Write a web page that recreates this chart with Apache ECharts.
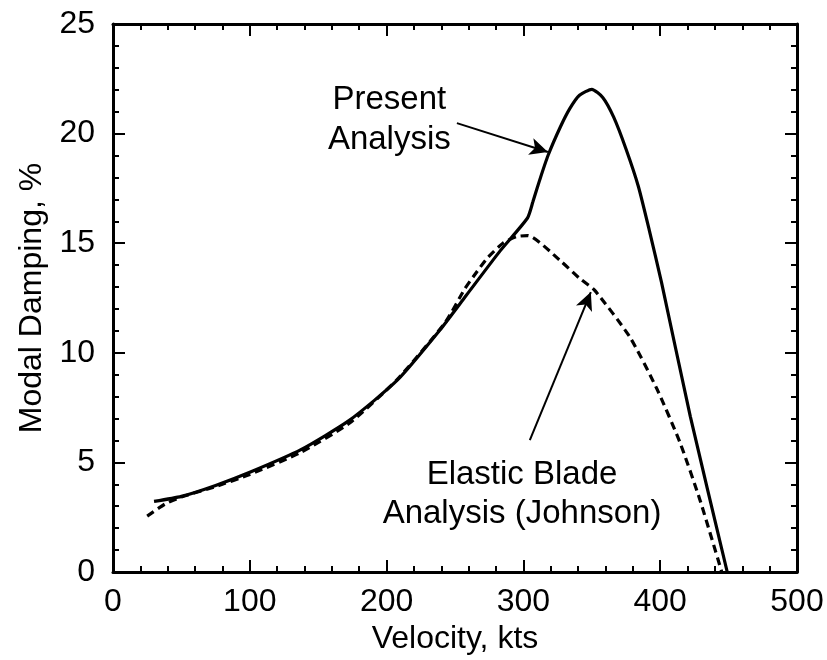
<!DOCTYPE html>
<html>
<head>
<meta charset="utf-8">
<script src="https://cdn.jsdelivr.net/npm/echarts@6/dist/echarts.min.js"></script>
<style>
  html, body { margin: 0; padding: 0; background: #fff; }
  #chart { width: 827px; height: 660px; }
</style>
</head>
<body>
<div id="chart"></div>
<script>
// Present Analysis (solid): [velocity kts, modal damping %]
const presentAnalysis = [
  [30, 3.22], [50, 3.45], [75, 3.95], [100, 4.55], [137, 5.57], [173, 6.93],
  [208, 8.76], [239, 11.04], [258, 12.6], [283, 14.65], [303, 16.15],
  [307, 16.9], [312, 17.9], [318, 19.0], [327, 20.3], [334, 21.15],
  [341, 21.75], [350, 22.02], [358, 21.65], [366, 20.75], [375, 19.3],
  [384, 17.6], [392, 15.6], [401, 13.2], [422, 7.1], [449, 0]
];
// Elastic Blade Analysis (Johnson) (dashed)
const johnsonAnalysis = [
  [25, 2.55], [38, 3.1], [50, 3.42], [75, 3.9], [100, 4.45], [137, 5.45],
  [173, 6.8], [208, 8.8], [243, 11.4], [257, 12.9], [266, 13.7],
  [274, 14.35], [285, 15.0], [295, 15.3], [303, 15.35], [327, 14.2],
  [341, 13.4], [352, 12.86], [378, 10.7], [398, 8.3], [414.5, 5.9],
  [429, 3.3], [445, 0]
];
// Annotations (data coordinates)
const presentLabel = { text: 'Present\nAnalysis', at: [202, 20.62] };
const presentArrow = { from: [251.4, 20.48], to: [317.9, 19.16] };
const johnsonLabel = { text: 'Elastic Blade\nAnalysis (Johnson)', at: [299, 3.56] };
const johnsonArrow = { from: [304.7, 6.02], to: [349.3, 12.77] };

const xTicks = { min: 0, max: 500, interval: 100 };
const yTicks = { min: 0, max: 25, interval: 5 };

const FONT = "'Liberation Sans', Arial, Helvetica, sans-serif";
const BLACK = '#000';

function makeAxis(base, extra) {
  return Object.assign({
    type: 'value',
    min: base.min, max: base.max, interval: base.interval,
    axisLine: { show: true, onZero: false, lineStyle: { color: BLACK, width: 3 } },
    axisTick: { show: true, inside: true, length: 12, lineStyle: { color: BLACK, width: 2 } },
    minorTick: { show: true, splitNumber: 5, length: 6, lineStyle: { color: BLACK, width: 2 } },
    splitLine: { show: false },
    minorSplitLine: { show: false }
  }, extra);
}

function arrowLine(arrow) {
  return {
    silent: true, animation: false,
    symbol: ['none', 'arrow'], symbolSize: 16,
    label: { show: false },
    lineStyle: { color: BLACK, width: 2, type: 'solid', opacity: 1 },
    itemStyle: { color: BLACK },
    emphasis: { disabled: true },
    data: [[
      { coord: arrow.from, symbol: 'none' },
      { coord: arrow.to, symbol: 'arrow', symbolSize: [13, 18], itemStyle: { color: BLACK } }
    ]]
  };
}

function textMark(lbl, lineHeight) {
  return {
    silent: true, animation: false,
    symbol: 'circle', symbolSize: 1, itemStyle: { color: 'rgba(0,0,0,0)' },
    label: { show: true, position: 'inside', color: BLACK, fontSize: 33, lineHeight: lineHeight, fontFamily: FONT, align: 'center', verticalAlign: 'middle' },
    data: [{ coord: lbl.at, value: 0, label: { formatter: lbl.text } }]
  };
}

const chart = echarts.init(document.getElementById('chart'), null, { renderer: 'canvas' });

const option = {
  backgroundColor: '#fff',
  animation: false,
  textStyle: { fontFamily: FONT },
  grid: { left: 113, right: 30, top: 24, bottom: 88, show: false },
  xAxis: [
    makeAxis(xTicks, {
      position: 'bottom',
      axisLabel: { show: true, color: BLACK, fontSize: 32, fontFamily: FONT, margin: 14 },
      name: 'Velocity, kts', nameLocation: 'middle', nameGap: 50,
      nameTextStyle: { color: BLACK, fontSize: 32, fontFamily: FONT }
    }),
    makeAxis(xTicks, { position: 'top', axisLabel: { show: false } })
  ],
  yAxis: [
    makeAxis(yTicks, {
      position: 'left',
      axisLabel: { show: true, color: BLACK, fontSize: 32, fontFamily: FONT, margin: 18 },
      name: 'Modal Damping, %', nameLocation: 'middle', nameGap: 59, nameRotate: 90,
      nameTextStyle: { color: BLACK, fontSize: 32, fontFamily: FONT }
    }),
    makeAxis(yTicks, { position: 'right', axisLabel: { show: false } })
  ],
  series: [
    {
      name: 'Present Analysis', type: 'line', xAxisIndex: 0, yAxisIndex: 0,
      data: presentAnalysis, showSymbol: false, smooth: 0.2,
      lineStyle: { color: BLACK, width: 3.2, type: 'solid' },
      itemStyle: { color: BLACK },
      silent: true,
      markLine: arrowLine(presentArrow),
      markPoint: textMark(presentLabel, 40)
    },
    {
      name: 'Elastic Blade Analysis (Johnson)', type: 'line', xAxisIndex: 0, yAxisIndex: 0,
      data: johnsonAnalysis, showSymbol: false, smooth: 0.2,
      lineStyle: { color: BLACK, width: 3.2, type: [8, 5] },
      itemStyle: { color: BLACK },
      silent: true,
      markLine: arrowLine(johnsonArrow),
      markPoint: textMark(johnsonLabel, 39)
    }
  ]
};
chart.setOption(option);
</script>
</body>
</html>
